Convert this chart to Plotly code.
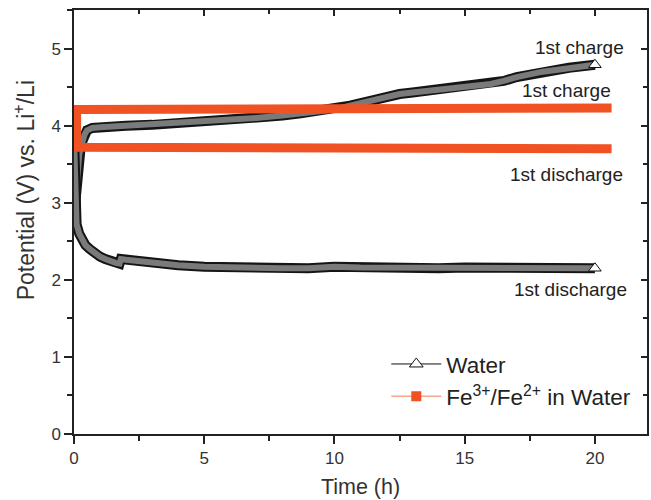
import plotly.graph_objects as go

# ---- data ----
water_charge_x = [0.05, 0.1, 0.15, 0.2, 0.25, 0.3, 0.4, 0.5, 0.7, 1.0, 2, 3, 4, 5, 6, 7, 8, 8.7, 9.5, 10, 10.6,
                  11.5, 12, 12.5, 13, 14, 15, 16, 16.5, 17, 18, 19, 20]
water_charge_y = [3.0, 3.3, 3.5, 3.62, 3.7, 3.78, 3.88, 3.94, 3.97, 3.98, 4.0, 4.01, 4.03, 4.05, 4.07, 4.1,
                  4.13, 4.16, 4.19, 4.21, 4.26, 4.33, 4.38, 4.41, 4.43, 4.47, 4.51, 4.54, 4.58, 4.63, 4.70,
                  4.75, 4.79]
water_dis_x = [0.0, 0.03, 0.06, 0.1, 0.2, 0.3, 0.44, 0.6, 0.8, 1.0, 1.2, 1.4, 1.6, 1.75, 1.8, 2.0, 2.5, 3,
               4, 5, 6, 7, 8, 9, 10, 11, 12, 13, 14, 15, 16, 17, 18, 19, 20]
water_dis_y = [3.85, 3.5, 3.1, 2.72, 2.6, 2.52, 2.45, 2.4, 2.34, 2.3, 2.27, 2.24, 2.22, 2.21, 2.27, 2.26,
               2.24, 2.22, 2.19, 2.17, 2.16, 2.15, 2.15, 2.15, 2.17, 2.16, 2.16, 2.15, 2.15, 2.16, 2.16,
               2.15, 2.15, 2.15, 2.15]
fe_charge_x = [0.1, 1, 5, 10, 15, 20.64]
fe_charge_y = [4.21, 4.22, 4.22, 4.23, 4.23, 4.23]
fe_dis_x = [0.1, 1, 5, 10, 15, 20.64]
fe_dis_y = [3.72, 3.72, 3.71, 3.71, 3.71, 3.70]

labels = ["1st charge", "1st charge", "1st discharge", "1st discharge"]
label_x = [19.4, 18.9, 18.9, 19.05]
label_y = [5.02, 4.46, 3.37, 1.87]

ORANGE = "#F05223"
FONT = "Liberation Sans, Arial, sans-serif"

fig = go.Figure()

for xs, ys in [(water_charge_x, water_charge_y), (water_dis_x, water_dis_y)]:
    fig.add_trace(go.Scatter(x=xs, y=ys, mode="lines", line=dict(color="#151515", width=10),
                             showlegend=False, hoverinfo="skip"))
    fig.add_trace(go.Scatter(x=xs, y=ys, mode="lines", line=dict(color="#7a7a7a", width=6),
                             showlegend=False, hoverinfo="skip"))
    fig.add_trace(go.Scatter(x=[xs[-1]], y=[ys[-1]], mode="markers",
                             marker=dict(symbol="triangle-up", size=11, color="white",
                                         line=dict(color="#111", width=1)),
                             showlegend=False, hoverinfo="skip"))

fe_x = fe_charge_x[::-1] + fe_dis_x
fe_y = fe_charge_y[::-1] + fe_dis_y
fig.add_trace(go.Scatter(x=fe_x, y=fe_y, mode="lines", line=dict(color=ORANGE, width=9),
                         showlegend=False, hoverinfo="skip"))

# legend-only entries
fig.add_trace(go.Scatter(x=[None], y=[None], mode="lines+markers", name="Water",
                         line=dict(color="#111", width=1),
                         marker=dict(symbol="triangle-up", size=12, color="white",
                                     line=dict(color="#111", width=1))))
fig.add_trace(go.Scatter(x=[None], y=[None], mode="lines+markers",
                         name="Fe<sup>3+</sup>/Fe<sup>2+</sup> in Water",
                         line=dict(color="#F5A88C", width=1.5),
                         marker=dict(symbol="square", size=10, color=ORANGE)))

# dummy trace for mirror axes
fig.add_trace(go.Scatter(x=[None], y=[None], xaxis="x2", yaxis="y2", showlegend=False))

for t, xv, yv in zip(labels, label_x, label_y):
    fig.add_annotation(x=xv, y=yv, text=t, showarrow=False, xref="x", yref="y",
                       font=dict(size=19, color="#222", family=FONT))

# y-axis title
fig.add_annotation(x=-0.087, y=0.575, xref="paper", yref="paper", xanchor="center", yanchor="middle",
                   text="Potential (V) vs. Li<sup>+</sup>/Li", textangle=-90, showarrow=False,
                   font=dict(size=23, color="#333", family=FONT))

axis_common = dict(showline=True, linecolor="#222", linewidth=1.5, showgrid=False, zeroline=False,
                   tickcolor="#222", tickwidth=1.5)

fig.update_layout(
    width=651, height=500,
    margin=dict(l=74, r=4, t=10, b=66),
    paper_bgcolor="white", plot_bgcolor="white",
    font=dict(family=FONT, color="#333"),
    xaxis=dict(range=[0, 22], tickmode="linear", tick0=0, dtick=5, ticks="outside", ticklen=8,
               minor=dict(dtick=2.5, ticks="outside", ticklen=5, tickcolor="#222", tickwidth=1.5),
               tickfont=dict(size=17, color="#333"),
               title=dict(text="Time (h)", font=dict(size=21.5, color="#333"), standoff=12),
               **axis_common),
    yaxis=dict(range=[0, 5.5], tickmode="linear", tick0=0, dtick=1, ticks="outside", ticklen=8,
               minor=dict(dtick=0.5, ticks="outside", ticklen=5, tickcolor="#222", tickwidth=1.5),
               tickfont=dict(size=17, color="#333"),
               **axis_common),
    xaxis2=dict(range=[0, 22], overlaying="x", side="top", tickmode="linear", tick0=0, dtick=5,
                ticks="inside", ticklen=6, showticklabels=False,
                minor=dict(dtick=2.5, ticks="inside", ticklen=4, tickcolor="#222", tickwidth=1.5),
                **axis_common),
    yaxis2=dict(range=[0, 5.5], overlaying="y", side="right", tickmode="linear", tick0=0, dtick=1,
                ticks="inside", ticklen=6, showticklabels=False,
                minor=dict(dtick=0.5, ticks="inside", ticklen=4, tickcolor="#222", tickwidth=1.5),
                **axis_common),
    legend=dict(x=0.545, y=0.215, xanchor="left", yanchor="top", bgcolor="rgba(0,0,0,0)",
                font=dict(size=22.5, color="#222", family=FONT), itemwidth=50, tracegroupgap=0),
)

fig.write_html("out.html")
